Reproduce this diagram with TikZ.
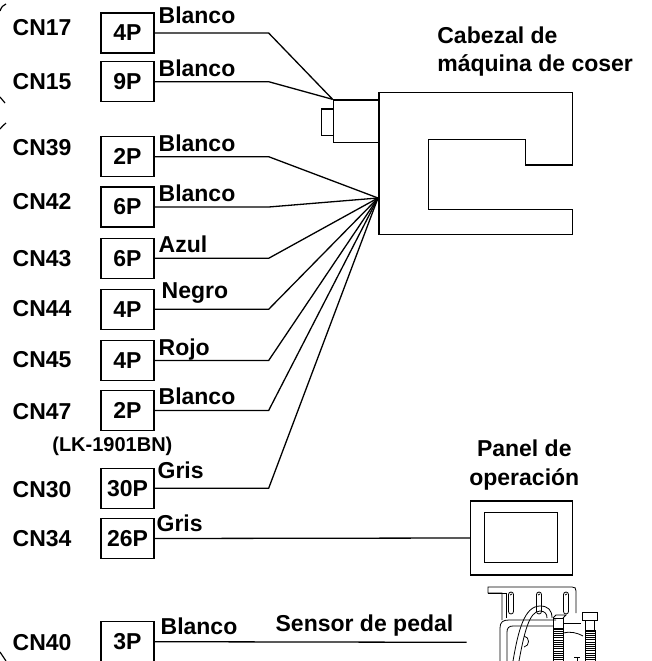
\documentclass[tikz,border=0pt]{standalone}
\usepackage{fontspec}
\setmainfont{Liberation Sans}
\newcommand\lblfont{\fontsize{23}{28}\selectfont\bfseries}
\newcommand\smallfont{\fontsize{20}{24}\selectfont\bfseries}
\begin{document}
\begin{tikzpicture}[x=1pt,y=-1pt,line width=1.3pt,
  conbox/.style={draw,minimum width=53pt,minimum height=40pt,inner sep=0pt,font=\lblfont},
  lbl/.style={anchor=base west,inner sep=0pt,font=\lblfont},
  ctr/.style={anchor=base,inner sep=0pt,font=\lblfont},
  wire/.style={line width=1.3pt},
  thin/.style={line width=0.8pt},
  brace/.style={line width=1.2pt}]
\useasboundingbox (0,0) rectangle (651,661);

% brace fragments at left edge
\draw[brace] (0,11) .. controls (1.5,7) and (3,5) .. (6,4);
\draw[brace] (0,97) .. controls (2,99) and (3,101) .. (5,103);
\draw[brace] (0,129) .. controls (2,127) and (3,125) .. (6,123);
\draw[brace] (0,652) .. controls (2,655) and (4,658) .. (6,661);

% machine head
\node[draw,minimum width=45.7pt,minimum height=42.7pt,inner sep=0pt] (housing) at (356.15,121.35) {};
\node[draw,minimum width=11.6pt,minimum height=26.3pt,inner sep=0pt] (tab) at (327.5,122.15) {};
\draw (379,92.3) -- (572.3,92.3) -- (572.3,165) -- (525.7,165) -- (525.7,139.3)
  -- (428.3,139.3) -- (428.3,209.7) -- (572.3,209.7) -- (572.3,234.3) -- (379,234.3) -- cycle;
\coordinate (hub) at (378,198);
\node[lbl] (headA) at (436.7,43.3) {Cabezal de};
\node[lbl] (headB) at (436.7,71.7) {máquina de coser};

% connectors
\foreach \nm/\pin/\yc/\cn/\cnb in {17/4P/33/CN17/36, 15/9P/81.7/CN15/89.3, 39/2P/156.7/CN39/155,
  42/6P/207/CN42/209, 43/6P/258.3/CN43/266.7, 44/4P/309.3/CN44/316.7, 45/4P/360.5/CN45/367.7,
  47/2P/410.5/CN47/419, 30/30P/488.3/CN30/497.7, 34/26P/538.5/CN34/546.7, 40/3P/641.7/CN40/650}{
  \node[conbox] (b\nm) at (127.5,\yc) {\pin};
  \node[lbl] (c\nm) at (12,\cnb) {\cn};
}
\node[anchor=base west,inner sep=0pt,font=\smallfont] (lk) at (51.7,451.5) {(LK-1901BN)};

% wire colour labels
\node[lbl] (w17) at (158,24) {Blanco};
\node[lbl] (w15) at (158,77) {Blanco};
\node[lbl] (w39) at (158,151.7) {Blanco};
\node[lbl] (w42) at (158,201.7) {Blanco};
\node[lbl] (w43) at (158,252.7) {Azul};
\node[lbl] (w44) at (161,298) {Negro};
\node[lbl] (w45) at (158,355) {Rojo};
\node[lbl] (w47) at (158,404) {Blanco};
\node[lbl] (w30) at (157,478.3) {Gris};
\node[lbl] (w34) at (156,531.7) {Gris};
\node[lbl] (w40) at (160,634) {Blanco};
\node[lbl] (sens) at (275,631.7) {Sensor de pedal};

% wires to head
\draw[wire] (b17.east) -- ++(114,0) -- (housing.north west);
\draw[wire] (b15.east) -- ++(114,0) -- (housing.north west);
\foreach \nm in {39,42,43,44,45,47,30}{
  \draw[wire] (b\nm.east) -- ++(114,0) -- (hub);
}

% operation panel
\node[draw,minimum width=101.6pt,minimum height=74pt,inner sep=0pt] (panel) at (521.5,538) {};
\node[draw,minimum width=73.4pt,minimum height=50.4pt,inner sep=0pt] (screen) at (521,537.5) {};
\node[ctr] (panA) at (524.3,456.8) {Panel de};
\node[ctr] (panB) at (524.3,485) {operación};
\draw[wire] (b34.east) -- (panel.west);

% pedal sensor
\coordinate (pedal) at (466.7,642.3);
\draw[wire] (b40.east) -- (pedal);
\begin{scope}[thin]
  % bracket
  \draw (502,620) -- (502,593) -- (488,593) -- (488,587) -- (572,587)
    .. controls (575,587) and (576,588) .. (576,591) -- (576,613);
  \draw (506,593) -- (506,618);
  \draw (506,593) -- (488,593);
  % slots
  \foreach \sx in {511,539,566}{
    \draw[rounded corners=2.5pt] (\sx-2.5,592) rectangle (\sx+2.5,614);
    \draw (\sx-1,595) -- (\sx+1,594);
  }
  % body
  \draw (500,661) -- (500,628) .. controls (500,622) and (503,620) .. (509,620) -- (556,620);
  \draw (507,661) -- (507,632) .. controls (507,628) and (509,626) .. (513,626) -- (553,626);
  \draw (524,636) .. controls (530,637) and (530,646) .. (524,647);
  % cable
  \draw (513,661) .. controls (518,632) and (524,606) .. (540,606)
    .. controls (548,606) and (552,610) .. (552,618);
  \draw (519,661) .. controls (524,634) and (529,611) .. (540,611)
    .. controls (545,611) and (547,614) .. (547,618);
  % arm and caps
  \draw (553,618) rectangle (563,628);
  \draw (553,618) -- (556,615) -- (566,615) -- (563,618);
  \draw (563,623) -- (581,623);
  \draw (563,633) .. controls (570,631) and (578,633) .. (583,636);
  \draw (582,612) rectangle (597,620);
  \draw (585,620) rectangle (594,630);
  % springs
  \draw (553,628) -- (553,661) (563,628) -- (563,661);
  \foreach \yy in {629,631.2,...,661}{ \draw (553,\yy) -- (563,\yy); }
  \draw (585,630) -- (585,661) (595,630) -- (595,661);
  \foreach \yy in {631,633.2,...,661}{ \draw (585,\yy) -- (595,\yy); }
  \draw (574,657) -- (580,657) (577,657) -- (577,661);
\end{scope}
\end{tikzpicture}
\end{document}
